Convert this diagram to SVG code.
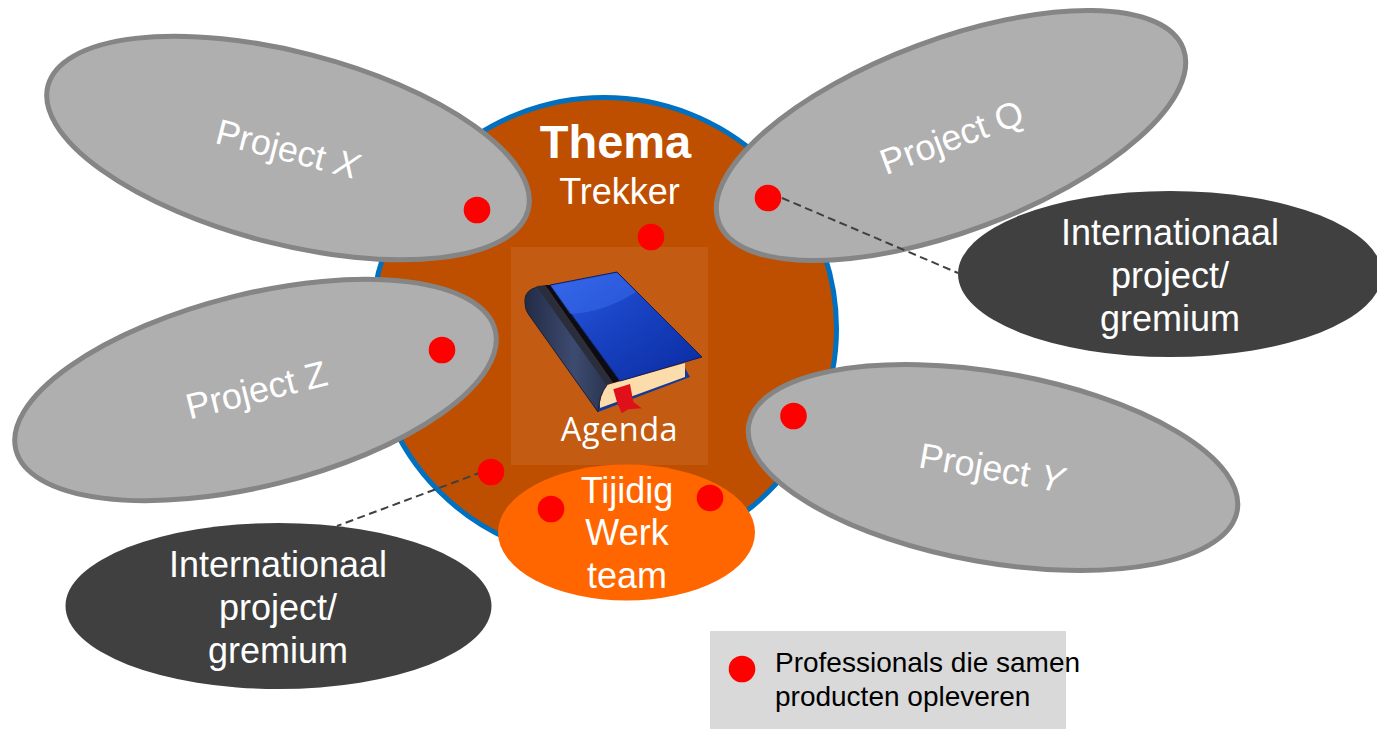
<svg xmlns="http://www.w3.org/2000/svg" width="1377" height="729" viewBox="0 0 1377 729">
<style>
text{font-family:"Liberation Sans",Arial,sans-serif;fill:#fff;text-anchor:middle}
.p{fill:#afafaf;stroke:#858585;stroke-width:5}
.d{fill:#404040}
.r{fill:#f00}
.t{font-size:36px}
.pt{font-size:36px}
.c{fill:none;stroke:#404040;stroke-width:2;stroke-dasharray:8 4.500}
</style>
<defs>
<linearGradient id="cover" x1="0" y1="0" x2="1" y2="1"><stop offset="0" stop-color="#2f62e4"/><stop offset=".4" stop-color="#1a45c6"/><stop offset="1" stop-color="#0a2ba0"/></linearGradient>
<linearGradient id="spine" x1="0" y1="0" x2="1" y2="0"><stop offset="0" stop-color="#232b46"/><stop offset=".6" stop-color="#3d4b70"/><stop offset="1" stop-color="#2a3550"/></linearGradient>
</defs>
<g id="thema"><ellipse cx="604" cy="328.500" rx="232.500" ry="231" fill="#bf4f00" stroke="#0070c0" stroke-width="5"/>
<text x="615.500" y="158" font-size="47" font-weight="bold">Thema</text>
<text x="619.500" y="204" class="t">Trekker</text></g>
<g id="agenda"><rect x="511" y="247" width="197" height="218" fill="#fff" fill-opacity=".07"/>
<path d="M598 412L690 377 685 368 600 400Z" fill="#123a96"/>
<path d="M607 385L685 363 685 377 600 408Q599 395 607 385Z" fill="#fbdcaa"/>
<path d="M532 289Q524 293 525 303Q525 310 529 315L598 412Q599 395 607 385L540 286Z" fill="url(#spine)" stroke="#1a2238" stroke-width="1"/>
<path d="M536.500 286.500L545 285 613 383 606.500 385Z" fill="#2a2e3c"/>
<path d="M545 285L550 285 620 381 613 383Z" fill="#0c0d14"/>
<path d="M550 285L617 272 702 357 620 381Z" fill="url(#cover)" stroke="#0b1f66" stroke-width="1"/>
<path d="M551 286L617 273 636 292Q605 312 570 314Z" fill="#3f72f2" fill-opacity=".45"/>
<path d="M613.300 389.300L630 384 633.300 401.700 641.700 408.300 628.300 409.300 621.700 413.300 617.300 403.300Z" fill="#e0101a"/>
<text x="619.500" y="441" font-size="32.500" style="font-family:'Open Sans',sans-serif;letter-spacing:.5px">Agenda</text></g>
<g id="werkteam"><ellipse cx="626.500" cy="532.500" rx="128.500" ry="68" fill="#f60"/>
<text x="627" y="503" class="t">Tijidig</text><text x="627" y="545" class="t">Werk</text><text x="627" y="588" class="t">team</text></g>
<g id="project-x"><ellipse class="p" cx="288" cy="148" rx="248" ry="96" transform="rotate(14.500 288 148)"/>
<text class="pt" transform="translate(284.500 161) rotate(14.500)">Project <tspan font-style="italic">X</tspan></text></g>
<g id="project-q"><ellipse class="p" cx="951" cy="135.500" rx="248" ry="96" transform="rotate(-20.500 951 135.500)"/>
<text class="pt" transform="translate(956 149) rotate(-20.500)">Project Q</text></g>
<g id="project-z"><ellipse class="p" cx="255.500" cy="390" rx="247" ry="96" transform="rotate(-14 255.500 390)"/>
<text class="pt" transform="translate(259.500 402) rotate(-14)">Project Z</text></g>
<g id="project-y"><ellipse class="p" cx="993" cy="467.500" rx="248" ry="95" transform="rotate(10 993 467.500)"/>
<text class="pt" transform="translate(989.500 480) rotate(10)">Project <tspan font-style="italic">Y</tspan></text></g>
<g id="connectors"><path class="c" d="M782 198L958 273"/><path class="c" d="M482 472L337 526"/></g>
<g id="intl-1"><ellipse class="d" cx="1170" cy="274" rx="212" ry="83"/>
<text x="1170" y="245" class="t">Internationaal</text><text x="1170" y="288" class="t">project/</text><text x="1170" y="331" class="t">gremium</text></g>
<g id="intl-2"><ellipse class="d" cx="278.500" cy="606" rx="213" ry="83"/>
<text x="278" y="577" class="t">Internationaal</text><text x="278" y="620" class="t">project/</text><text x="278" y="663" class="t">gremium</text></g>
<g id="dots"><circle class="r" cx="477" cy="210" r="13.300"/><circle class="r" cx="651" cy="237" r="13.300"/><circle class="r" cx="768" cy="198" r="13.300"/><circle class="r" cx="442" cy="350" r="13.300"/><circle class="r" cx="793.500" cy="416" r="13.300"/><circle class="r" cx="491" cy="472" r="13.300"/><circle class="r" cx="551" cy="509" r="13.300"/><circle class="r" cx="710" cy="498" r="13.300"/></g>
<g id="legend"><rect x="710" y="631" width="356" height="98" fill="#d9d9d9"/><circle class="r" cx="742" cy="669" r="13.300"/>
<text x="775" y="672" font-size="28" style="fill:#000;text-anchor:start">Professionals die samen</text><text x="775" y="706" font-size="28" style="fill:#000;text-anchor:start">producten opleveren</text></g>
</svg>
